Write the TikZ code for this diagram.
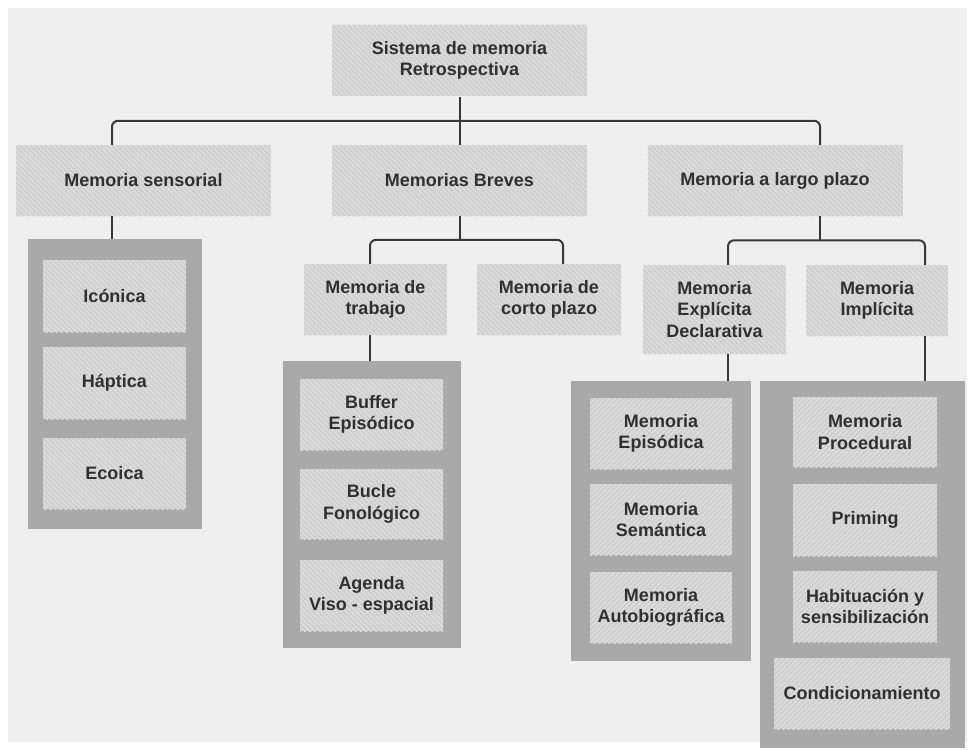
\documentclass[tikz,border=0pt]{standalone}
\usepackage{fontspec}
\setmainfont{Liberation Sans}
\usetikzlibrary{patterns.meta}
\definecolor{bgc}{HTML}{EFEFEF}
\definecolor{boxfill}{HTML}{CFCFCF}
\definecolor{hatch}{HTML}{DEDEDE}
\definecolor{grp}{HTML}{A9A9A9}
\definecolor{txt}{HTML}{303030}
\definecolor{linec}{HTML}{383838}
\begin{document}
\begin{tikzpicture}[x=1pt,y=-1pt,
  box/.style={rectangle, inner sep=0pt, align=center,
    font=\bfseries\fontsize{18}{21.5}\selectfont, text=txt,
    preaction={fill=boxfill},
    pattern={Lines[angle=-45,distance=3.6pt,line width=1.3pt]}, pattern color=hatch},
  ibox/.style={box, pattern={Lines[angle=45,distance=3.6pt,line width=1.3pt]}},
  grpbox/.style={rectangle, inner sep=0pt, fill=grp},
  conn/.style={draw=linec, line width=2pt},
  rconn/.style={conn, rounded corners=6pt}]
\useasboundingbox (0,0) rectangle (968,749);
\fill[white] (0,0) rectangle (968,749);
\fill[bgc] (8,8) rectangle (967,742);

% groups
\node[grpbox, minimum width=174, minimum height=290] (sg) at (115,384) {};
\node[grpbox, minimum width=178, minimum height=287] (tg) at (372,504.5) {};
\node[grpbox, minimum width=180, minimum height=280] (eg) at (661,521) {};
\node[grpbox, minimum width=205, minimum height=367] (ig) at (862.5,564.5) {};

% level 0 and 1
\node[box, minimum width=255, minimum height=71] (top) at (459.5,60.5) {Sistema de memoria\\Retrospectiva};
\node[box, minimum width=255, minimum height=71] (sens) at (143.5,180.5) {Memoria sensorial};
\node[box, minimum width=255, minimum height=71] (breves) at (459.5,180.5) {Memorias Breves};
\node[box, minimum width=255, minimum height=71] (largo) at (775,180.5) {Memoria a largo plazo};

% level 2
\node[box, minimum width=143, minimum height=71] (trabajo) at (375.5,299.5) {Memoria de\\trabajo};
\node[box, minimum width=144, minimum height=71] (corto) at (549,299.5) {Memoria de\\corto plazo};
\node[box, minimum width=143, minimum height=89] (expl) at (714.5,309.5) {Memoria\\Explícita\\Declarativa};
\node[box, minimum width=142, minimum height=71] (impl) at (877,300.5) {Memoria\\Implícita};

% sensorial items
\node[box, minimum width=143, minimum height=72] (ico) at (114.5,296) {Icónica};
\node[box, minimum width=143, minimum height=72] (hap) at (114.5,383) {Háptica};
\node[box, minimum width=143, minimum height=71] (eco) at (114.5,473.5) {Ecoica};

% trabajo items
\node[box, minimum width=143, minimum height=71] (buf) at (371.5,414.5) {Buffer\\Episódico};
\node[box, minimum width=143, minimum height=70] (buc) at (371.5,504) {Bucle\\Fonológico};
\node[box, minimum width=143, minimum height=71] (age) at (371.5,595.5) {Agenda\\Viso - espacial};

% explicita items
\node[ibox, minimum width=142, minimum height=71] (epi) at (661,433.5) {Memoria\\Episódica};
\node[ibox, minimum width=142, minimum height=71] (sem) at (661,519.5) {Memoria\\Semántica};
\node[ibox, minimum width=142, minimum height=71] (aut) at (661,607.5) {Memoria\\Autobiográfica};

% implicita items
\node[ibox, minimum width=144, minimum height=70] (pro) at (865,432) {Memoria\\Procedural};
\node[ibox, minimum width=144, minimum height=72] (pri) at (865,520) {Priming};
\node[ibox, minimum width=144, minimum height=71] (hab) at (865,606.5) {Habituación y\\sensibilización};
\node[ibox, minimum width=176, minimum height=71] (con) at (862,693.5) {Condicionamiento};

% connectors
\draw[conn] (top.south) -- (breves.north);
\draw[rconn] ([xshift=-31.5pt]sens.north) -- ++(0,-24) -| ([xshift=45pt]largo.north);

\draw[conn] (breves.south) -- ++(0,24.5);
\draw[rconn] ([xshift=-5.5pt]trabajo.north) -- ++(0,-24) -| ([xshift=14pt]corto.north);

\coordinate (lg) at ([xshift=45pt]largo.south);
\draw[conn] (lg) -- (lg |- 0,240.5);
\draw[rconn] ([xshift=13.5pt]expl.north) -- ++(0,-24.5) -| ([xshift=48pt]impl.north);

\coordinate (sa) at ([xshift=-31.5pt]sens.south);
\draw[conn] (sa) -- (sa |- sg.north);
\coordinate (ta) at ([xshift=-5.5pt]trabajo.south);
\draw[conn] (ta) -- (ta |- tg.north);
\coordinate (ea) at ([xshift=13.5pt]expl.south);
\draw[conn] (ea) -- (ea |- eg.north);
\coordinate (ia) at ([xshift=48pt]impl.south);
\draw[conn] (ia) -- (ia |- ig.north);
\end{tikzpicture}
\end{document}
